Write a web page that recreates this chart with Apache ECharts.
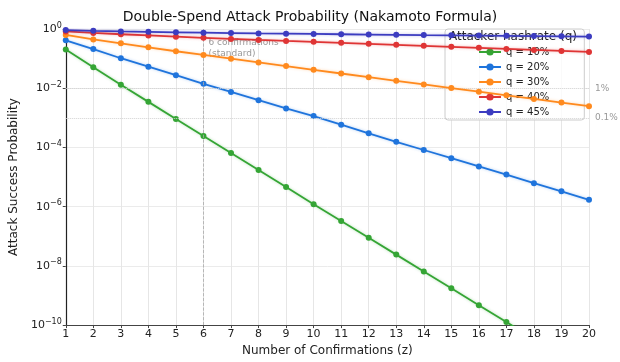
<!DOCTYPE html>
<html>
<head>
<meta charset="utf-8">
<script src="https://cdn.jsdelivr.net/npm/echarts@6/dist/echarts.min.js"></script>
<style>
  html, body { margin: 0; padding: 0; background: #fff; }
  #chart { width: 620px; height: 362px; }
</style>
</head>
<body>
<div id="chart"></div>
<script>
// confirmations z = 1..20
const confirmations = [1, 2, 3, 4, 5, 6, 7, 8, 9, 10, 11, 12, 13, 14, 15, 16, 17, 18, 19, 20]
// attack success probability
const q10 = [0.2046, 0.051, 0.0132, 0.00346, 0.000914, 0.000243, 6.47e-5, 1.73e-5, 4.6e-6, 1.2e-6,
  3.3e-7, 8.9e-8, 2.4e-8, 6.5e-9, 1.75e-9, 4.7e-10, 1.27e-10, 3.4e-11, 9.2e-12, 2.5e-12]
const q20 = [0.416, 0.21, 0.103, 0.0534, 0.0275, 0.0141, 0.0075, 0.00396, 0.00208, 0.00115,
  5.85e-4, 3.0e-4, 1.55e-4, 8.2e-5, 4.35e-5, 2.28e-5, 1.21e-5, 6.2e-6, 3.3e-6, 1.7e-6]
const q30 = [0.628, 0.446, 0.328, 0.2415, 0.1774, 0.133, 0.0995, 0.0746, 0.0559, 0.0417,
  0.0314, 0.0236, 0.0178, 0.0134, 0.0101, 0.00763, 0.00576, 0.00435, 0.00328, 0.00248]
const q40 = [0.829, 0.736, 0.665, 0.605, 0.552, 0.505, 0.463, 0.426, 0.396, 0.37,
  0.342, 0.316, 0.292, 0.27, 0.25, 0.231, 0.213, 0.197, 0.182, 0.168]
const q45 = [0.92, 0.87, 0.83, 0.8, 0.775, 0.75, 0.73, 0.71, 0.695, 0.68,
  0.665, 0.65, 0.635, 0.622, 0.61, 0.598, 0.587, 0.576, 0.565, 0.555]
const seriesNames = ['q = 10%', 'q = 20%', 'q = 30%', 'q = 40%', 'q = 45%']
const seriesColors = ['#35a535', '#1f74dc', '#ff8a1e', '#df3535', '#3c3cc0']
const refLevels = [0.01, 0.001]
const refLabels = ['1%', '0.1%']
const standardZ = 6

let myChart = echarts.init(document.getElementById('chart'))

function makeSeries(name, values, color, i) {
  return {
    name: name,
    type: 'line',
    data: confirmations.map((z, k) => [z, values[k]]),
    symbol: 'circle',
    symbolSize: 6,
    clip: true,
    itemStyle: { color: color },
    lineStyle: {
      color: color,
      width: 1.8,
      shadowColor: echarts.color.modifyAlpha(color, 0.35),
      shadowBlur: 3
    },
    emphasis: { disabled: true },
    z: 3 + i
  }
}

let series = [q10, q20, q30, q40, q45].map((v, i) => makeSeries(seriesNames[i], v, seriesColors[i], i))

// reference lines (precision high, otherwise 0.001 gets rounded to 0)
series[0].markLine = {
  silent: true,
  symbol: 'none',
  animation: false,
  precision: 8,
  data: [
    {
      xAxis: standardZ,
      lineStyle: { color: '#aaa', type: 'dashed', width: 0.8 },
      label: { show: false }
    }
  ].concat(refLevels.map((v, i) => ({
    yAxis: v,
    lineStyle: { color: '#d2d2d2', type: 'dotted', width: 1 },
    label: { show: true, position: 'end', formatter: refLabels[i], color: '#999', fontSize: 9, distance: 6 }
  })))
}

series[0].markPoint = {
  silent: true,
  animation: false,
  symbol: 'circle',
  symbolSize: 0,
  data: [{
    coord: [standardZ, 0.22],
    label: {
      show: true,
      position: 'right',
      distance: 5,
      formatter: '6 confirmations\n(standard)',
      color: '#999',
      fontSize: 9,
      lineHeight: 11,
      align: 'left'
    }
  }]
}

myChart.setOption({
  animation: false,
  textStyle: { fontFamily: 'DejaVu Sans' },
  title: [
    {
      text: 'Double-Spend Attack Probability (Nakamoto Formula)',
      left: 'center',
      top: 5,
      textStyle: { fontSize: 14, fontWeight: 'normal', color: '#111' }
    },
    {
      text: 'Attacker hashrate (q)',
      left: 449,
      top: 31,
      padding: 0,
      textStyle: { fontSize: 12, fontWeight: 'normal', color: '#222' }
    }
  ],
  legend: {
    data: seriesNames,
    orient: 'vertical',
    left: 445,
    top: 29,
    padding: [18, 35, 3, 33],
    itemGap: 5,
    itemWidth: 22,
    itemHeight: 9,
    backgroundColor: 'rgba(255,255,255,0.8)',
    borderColor: '#ccc',
    borderWidth: 1,
    borderRadius: 3,
    textStyle: { fontSize: 10, color: '#222' }
  },
  grid: {
    left: 63,
    right: 31,
    top: 29,
    bottom: 32
  },
  xAxis: {
    type: 'value',
    min: 1,
    max: 20,
    interval: 1,
    name: 'Number of Confirmations (z)',
    nameLocation: 'middle',
    nameGap: 18,
    nameTextStyle: { fontSize: 12, color: '#222' },
    axisLine: { lineStyle: { color: '#444', width: 1.2 } },
    axisTick: { show: true, length: 3, lineStyle: { color: '#444' } },
    axisLabel: { fontSize: 11, color: '#222', margin: 4 },
    splitLine: { show: true, lineStyle: { color: '#e6e6e6', width: 1 } }
  },
  yAxis: {
    type: 'log',
    logBase: 10,
    min: 1e-10,
    max: 1,
    interval: 2,
    name: 'Attack Success Probability',
    nameLocation: 'middle',
    nameGap: 42,
    nameTextStyle: { fontSize: 12, color: '#222' },
    axisLine: { show: true, lineStyle: { color: '#222', width: 1.2 } },
    axisTick: { show: true, length: 3, lineStyle: { color: '#444' } },
    axisLabel: {
      margin: 4,
      color: '#222',
      formatter: function (v) {
        let e = Math.round(Math.log10(v))
        return '10{sup|' + (e < 0 ? '\u2212' + (-e) : e) + '}'
      },
      fontSize: 11,
      rich: {
        sup: { fontSize: 8, verticalAlign: 'top', padding: [0, 0, 7, 0], color: '#222' }
      }
    },
    splitLine: { show: true, lineStyle: { color: '#ebebeb', width: 1 } }
  },
  series: series
})
</script>
</body>
</html>
